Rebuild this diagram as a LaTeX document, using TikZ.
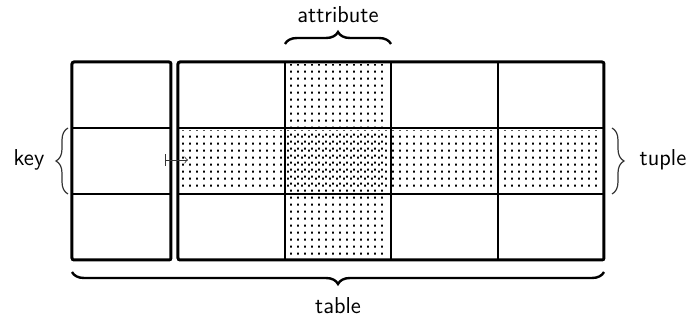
\documentclass[tikz,border=0pt]{standalone}
\usepackage{tikz}
\usetikzlibrary{arrows}
\usetikzlibrary{patterns}
\usetikzlibrary{decorations.pathreplacing}
\usetikzlibrary{positioning}
\renewcommand{\familydefault}{\sfdefault}

\pgfdeclarepatternformonly{coldots}{\pgfpointorigin}{\pgfpoint{3.5pt}{3.4pt}}{\pgfpoint{3.5pt}{3.4pt}}{%
  \pgfpathrectangle{\pgfpoint{1.75pt}{1.2pt}}{\pgfpoint{1pt}{1pt}}\pgfusepath{fill}}
\pgfdeclarepatternformonly{rowdots}{\pgfpointorigin}{\pgfpoint{3.5pt}{3.4pt}}{\pgfpoint{3.5pt}{3.4pt}}{%
  \pgfpathrectangle{\pgfpoint{0pt}{1.2pt}}{\pgfpoint{1pt}{1pt}}\pgfusepath{fill}}

\tikzset{
  frame/.style={line width=1.5pt, rounded corners=1pt},
  rowline/.style={line width=1.4pt},
  colline/.style={line width=1pt},
  thinbrace/.style={decorate, decoration={brace, amplitude=6pt}, line width=.6pt, black!80},
  bigbrace/.style={decorate, decoration={brace, amplitude=6pt}, line width=1.2pt},
  lbl/.style={font=\fontsize{11.5}{14}\selectfont},
}

\begin{document}
\begin{tikzpicture}[x=.5pt,y=-.5pt]
    \useasboundingbox (0,0) rectangle (693,325);
    % shaded attribute column and tuple row
    \fill[pattern=coldots] (288,65) rectangle (388,257);
    \fill[pattern=rowdots] (181,131) rectangle (601,191);
    % grid
    \foreach \y in {128,194} {
      \draw[rowline] (72,\y) -- (171,\y);
      \draw[rowline] (178,\y) -- (604,\y);
    }
    \foreach \x in {285,391,498}
      \draw[colline] (\x,62) -- (\x,260);
    \draw[frame] (72,62) rectangle (171,260);
    \draw[frame] (178,62) rectangle (604,260);
    % key maps to tuple
    \coordinate (keyout) at (165,160);
    \coordinate (tuplein) at (188,160);
    \draw[|->, thin, black!80] (keyout) -- (tuplein);
    % braces
    \coordinate (keyb) at (68,194);
    \coordinate (keyt) at (68,128);
    \coordinate (tupt) at (612,128);
    \coordinate (tupb) at (612,194);
    \coordinate (attl) at (285,44);
    \coordinate (attr) at (391,44);
    \coordinate (tabr) at (604,272);
    \coordinate (tabl) at (72,272);
    \draw[thinbrace] (keyb) -- (keyt);
    \draw[thinbrace] (tupt) -- (tupb);
    \draw[bigbrace] (attl) -- (attr);
    \draw[bigbrace] (tabr) -- (tabl);
    \node[lbl] (key) at (29,160) {key};
    \node[lbl] (tuple) at (663,160) {tuple};
    \node[lbl] (attribute) at (338,15) {attribute};
    \node[lbl] (table) at (338,306) {table};
\end{tikzpicture}
\end{document}
